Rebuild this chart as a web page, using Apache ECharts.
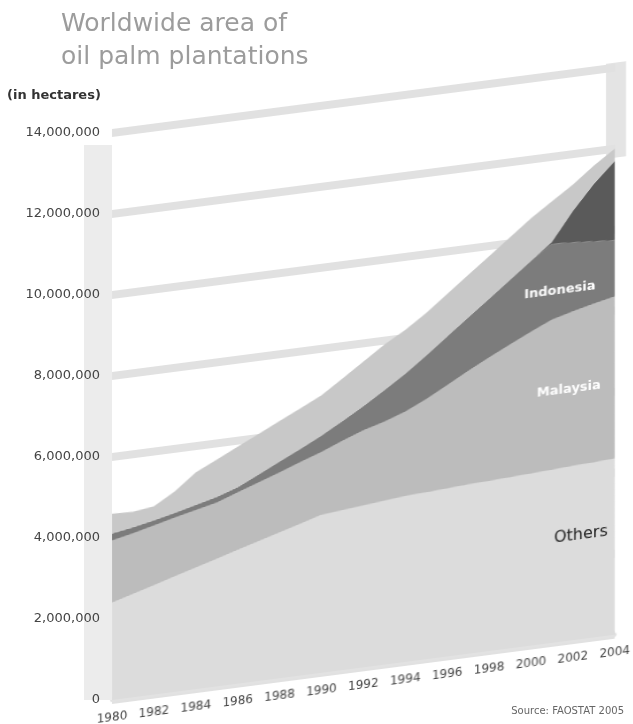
<!DOCTYPE html>
<html>
<head>
<meta charset="utf-8">
<title>Worldwide area of oil palm plantations</title>
<script src="https://cdn.jsdelivr.net/npm/echarts/dist/echarts.min.js"></script>
<style>
  html, body { margin: 0; padding: 0; background: #fff; }
  #wrap { position: relative; width: 633px; height: 724px; overflow: hidden; }
  #plot, #frame { position: absolute; left: 0; top: 0; width: 633px; height: 724px; }
  /* the plot leans up to the right like the printed graphic */
  #plot { transform: skewY(-7.4deg); transform-origin: 112px 0; }
  #frame { pointer-events: none; }
</style>
</head>
<body>
<div id="wrap">
  <div id="plot"></div>
  <div id="frame"></div>
</div>
<script>
// years on the x axis
const years = ['1980','1981','1982','1983','1984','1985','1986','1987','1988','1989',
  '1990','1991','1992','1993','1994','1995','1996','1997','1998','1999',
  '2000','2001','2002','2003','2004']

// stacked layers, bottom to top (hectares)
const others = [2400000,2550000,2700000,2850000,3000000,3150000,3300000,3450000,3600000,3750000,
  3900000,3950000,4000000,4050000,4100000,4120000,4150000,4180000,4200000,4220000,
  4250000,4270000,4300000,4320000,4350000]
const malaysia = [1540000,1500000,1470000,1450000,1420000,1390000,1420000,1450000,1480000,1520000,
  1550000,1710000,1850000,1950000,2080000,2300000,2550000,2800000,3050000,3280000,
  3500000,3710000,3820000,3920000,4000000]
const indonesia = [170000,150000,130000,120000,130000,140000,130000,200000,270000,330000,
  410000,490000,600000,780000,940000,1080000,1200000,1320000,1450000,1600000,
  1750000,1870000,1700000,1540000,1390000]
const indonesiaNew = [0,0,0,0,0,0,0,0,0,0,
  0,0,0,0,0,0,0,0,0,0,
  0,50000,780000,1420000,1960000]
const topBand = [490000,380000,350000,530000,800000,920000,1000000,1000000,1000000,1000000,
  990000,1050000,1100000,1120000,1080000,1050000,1050000,1050000,1050000,1050000,
  1050000,1000000,650000,450000,300000]

const yMax = 14000000
const yStep = 2000000
const font = 'DejaVu Sans'

const layer = (name, data, color, extra) => Object.assign({
  name,
  type: 'line',
  stack: 'total',
  data,
  symbol: 'none',
  smooth: false,
  lineStyle: { width: 0 },
  areaStyle: { color, opacity: 1 },
  emphasis: { disabled: true },
  silent: true,
}, extra || {})

const tag = (text, coord, color, size, weight, offset) => ({
  symbol: 'rect',
  symbolSize: 1,
  itemStyle: { color: 'rgba(0,0,0,0)' },
  label: { show: true, position: 'inside', formatter: text, color, fontSize: size,
    fontWeight: weight, fontFamily: font, offset: offset || [0, 0] },
  data: [{ coord }],
})

const plot = echarts.init(document.getElementById('plot'))
plot.setOption({
  animation: false,
  grid: { left: 112, right: 8, top: 133, bottom: 24 },
  xAxis: {
    type: 'category',
    data: years,
    boundaryGap: false,
    axisTick: { show: false },
    axisLine: { lineStyle: { color: '#e2e2e2', width: 4 } },
    axisLabel: { interval: 1, fontSize: 12, color: '#444', margin: 12, fontFamily: font },
  },
  yAxis: {
    type: 'value',
    min: 0,
    max: yMax,
    interval: yStep,
    axisLabel: { show: false },
    axisTick: { show: false },
    axisLine: { show: false },
    splitLine: { lineStyle: { color: '#e1e1e1', width: 8 } },
  },
  graphic: [
    { type: 'rect', z: -1, shape: { x: 606, y: 128, width: 20, height: 95 }, style: { fill: '#e4e4e4' } },
  ],
  series: [
    layer('Others', others, '#dcdcdc', {
      markPoint: tag('Others', ['2002', 2580000], '#222', 16, 'normal', [8, 0]) }),
    layer('Malaysia', malaysia, '#bcbcbc', {
      markPoint: tag('Malaysia', ['2002', 6200000], '#fff', 13, 'bold', [-4, 0]) }),
    layer('Indonesia', indonesia, '#7c7c7c', {
      markPoint: tag('Indonesia', ['2001', 8670000], '#fff', 13, 'bold', [8, 0]) }),
    layer('Indonesia (new)', indonesiaNew, '#5a5a5a'),
    layer('Top', topBand, '#c8c8c8'),
  ],
})

const frame = echarts.init(document.getElementById('frame'))
frame.setOption({
  animation: false,
  title: [
    { text: 'Worldwide area of\noil palm plantations', left: 56, top: 3,
      textStyle: { fontSize: 25, fontWeight: 'normal', color: '#9c9c9c', lineHeight: 33,
        fontFamily: font } },
    { text: '(in hectares)', left: 2, top: 84,
      textStyle: { fontSize: 13, fontWeight: 'bold', color: '#333', fontFamily: font } },
    { text: 'Source: FAOSTAT 2005', right: 4, bottom: 3,
      textStyle: { fontSize: 10, fontWeight: 'normal', color: '#666', fontFamily: font } },
  ],
  grid: { left: 112, right: 8, top: 133, bottom: 24 },
  xAxis: { type: 'category', data: years, show: false },
  yAxis: {
    type: 'value',
    min: 0,
    max: yMax,
    interval: yStep,
    axisLine: { show: false },
    axisTick: { show: false },
    splitLine: { show: false },
    axisLabel: { margin: 12, fontSize: 13, color: '#444', fontFamily: font,
      formatter: v => v.toLocaleString('en-US') },
  },
  graphic: [
    { type: 'rect', z: -1, shape: { x: 84, y: 145, width: 28, height: 555 }, style: { fill: '#ececec' } },
  ],
  series: [{ type: 'line', data: [] }],
})
</script>
</body>
</html>
